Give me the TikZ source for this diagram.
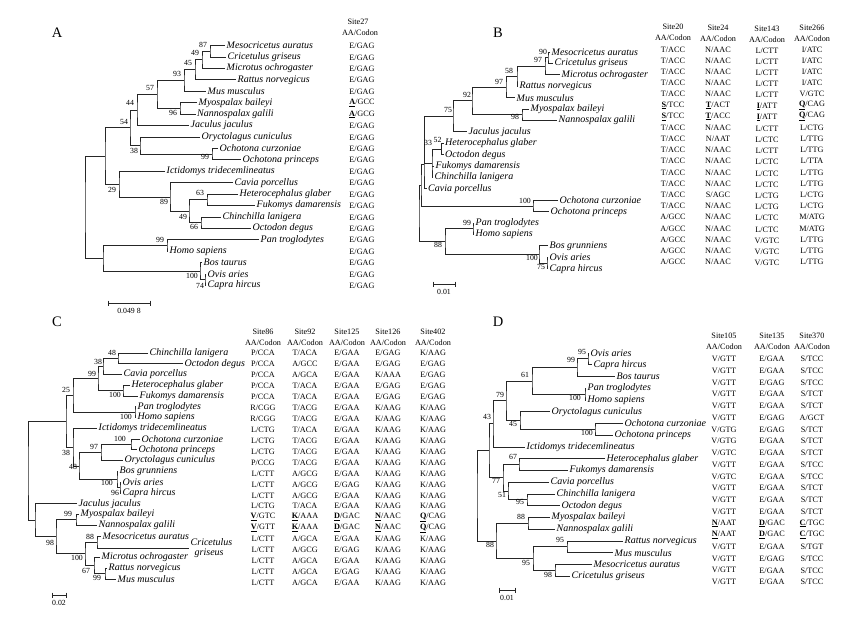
\documentclass[tikz,border=0pt]{standalone}
\usepackage{fontspec}
\setmainfont{Liberation Serif}
\usetikzlibrary{calc}
\newcommand\hl[1]{\underline{\textbf{#1}}}
\newcounter{bsn}
\tikzset{
  br/.style={line width=0.8pt, black!85},
  sp/.style={anchor=west, inner sep=0pt, xshift=1.5pt, align=left, font=\fontsize{10}{11}\selectfont\itshape},
  bsl/.style={inner sep=0pt, font=\fontsize{7.8}{8}\selectfont},
  tv/.style={inner sep=0pt, font=\fontsize{8.2}{9}\selectfont},
  ttl/.style={inner sep=0pt, font=\fontsize{14.5}{16}\selectfont},
}
% leaf: name, tip x, y, text
\newcommand\lf[4]{\coordinate (#1) at (#2,#3); \node[sp] (#1l) at (#1) {#4};}
% clade: name, x, child1, child2
\newcommand\cl[4]{\path let \p1=(#3), \p2=(#4) in coordinate (#1) at ({#2pt},{(\y1+\y2)/2});
  \draw[br] (#3) -| (#1) |- (#4);}
% bootstrap label
\newcommand\bs[3]{\stepcounter{bsn}\node[bsl] (bs\thebsn) at (#1,#2) {#3};}
% table column: name, x, y0, dy, list
\newcommand\tcol[5]{\foreach \v [count=\i from 0] in {#5} \node[tv] (#1-\i) at (#2,{#3+\i*#4}) {\v};}
% header: name, x, y, site
\newcommand\thd[4]{\node[tv] (#1a) at (#2,#3) {Site#4}; \node[tv] (#1b) at (#2,{#3+11}) {AA/Codon};}
% scale bar: name, x1, x2, y, label
\newcommand\sbar[5]{\coordinate (#1l) at (#2,#4); \coordinate (#1r) at (#3,#4);
  \draw[br, line width=0.7pt] (#1l) -- (#1r);
  \draw[br, line width=0.7pt] ($(#1l)+(0,-2.5)$) -- ($(#1l)+(0,2.5)$);
  \draw[br, line width=0.7pt] ($(#1r)+(0,-2.5)$) -- ($(#1r)+(0,2.5)$);
  \node[bsl] (#1t) at ({(#2+#3)/2},{#4+8}) {#5};}
\begin{document}
\begin{tikzpicture}[x=1pt,y=-1pt]
\fill[white] (0,0) rectangle (863,619);
\useasboundingbox (0,0) rectangle (863,619);

% ================= Panel A =================
\node[ttl] (tA) at (57,33) {A};
\lf{a0}{225}{45.5}{Mesocricetus auratus}
\lf{a1}{226}{56.9}{Cricetulus griseus}
\lf{a2}{225}{68.4}{Microtus ochrogaster}
\lf{a3}{236}{79.8}{Rattus norvegicus}
\lf{a4}{206}{91.2}{Mus musculus}
\lf{a5}{197}{102.7}{Myospalax baileyi}
\lf{a6}{195.5}{114.1}{Nannospalax galili}
\lf{a7}{189}{125.5}{Jaculus jaculus}
\lf{a8}{200}{136.9}{Oryctolagus cuniculus}
\lf{a9}{218}{148.4}{Ochotona curzoniae}
\lf{a10}{241}{159.8}{Ochotona princeps}
\lf{a11}{165}{171.2}{Ictidomys tridecemlineatus}
\lf{a12}{233}{182.7}{Cavia porcellus}
\lf{a13}{238}{194.1}{Heterocephalus glaber}
\lf{a14}{255}{205.5}{Fukomys damarensis}
\lf{a15}{221}{217.0}{Chinchilla lanigera}
\lf{a16}{251}{228.4}{Octodon degus}
\lf{a17}{259}{239.8}{Pan troglodytes}
\lf{a18}{168}{251.2}{Homo sapiens}
\lf{a19}{202}{262.7}{Bos taurus}
\lf{a20}{206}{274.1}{Ovis aries}
\lf{a21}{206}{285.5}{Capra hircus}
\cl{aN87}{210}{a0}{a1}
\cl{aN49}{202}{aN87}{a2}
\cl{aN45}{195}{aN49}{a3}
\cl{aN93}{184}{aN45}{a4}
\cl{aN96}{180}{a5}{a6}
\cl{aN57}{157}{aN93}{aN96}
\cl{aN44}{137}{aN57}{a7}
\cl{aN99}{212}{a9}{a10}
\cl{aN38}{140}{a8}{aN99}
\cl{aN54}{130}{aN44}{aN38}
\cl{aN63}{207}{a13}{a14}
\cl{aN66}{201}{a15}{a16}
\cl{aN49b}{189}{aN63}{aN66}
\cl{aN89}{170}{a12}{aN49b}
\cl{aN29}{119}{a11}{aN89}
\cl{aNU}{105}{aN54}{aN29}
\cl{aN99b}{167}{a17}{a18}
\cl{aN74}{205}{a20}{a21}
\cl{aN100}{200}{a19}{aN74}
\cl{aNO}{103}{aN99b}{aN100}
\cl{aRoot}{85}{aNU}{aNO}
\bs{203}{45}{87}\bs{195}{53}{49}\bs{188}{63}{45}\bs{177}{74}{93}\bs{150}{88}{57}
\bs{173}{113}{96}\bs{130}{103}{44}\bs{124}{122}{54}\bs{134}{151}{38}\bs{205}{157}{99}
\bs{112}{190}{29}\bs{164}{202}{89}\bs{200}{193}{63}\bs{183}{217}{49}\bs{194}{227}{66}
\bs{160}{240}{99}\bs{192}{276}{100}\bs{200}{286}{74}
\sbar{sA}{108}{150}{303}{0.049 8}
\node[tv] (hAa) at (358,22) {Site27};
\node[tv] (hAb) at (360,33) {AA/Codon};
\tcol{tA}{362}{46}{11.43}{E/GAG,E/GAG,E/GAG,E/GAG,E/GAG,\hl{A}/GCC,\hl{A}/GCG,E/GAG,E/GAG,E/GAG,E/GAG,E/GAG,E/GAG,E/GAG,E/GAG,E/GAG,E/GAG,E/GAG,E/GAG,E/GAG,E/GAG,E/GAG}

% ================= Panel B =================
\node[ttl] (tB) at (498,33) {B};
\lf{b0}{550}{52.0}{Mesocricetus auratus}
\lf{b1}{553}{63.4}{Cricetulus griseus}
\lf{b2}{560}{74.8}{Microtus ochrogaster}
\lf{b3}{518}{86.2}{Rattus norvegicus}
\lf{b4}{515}{97.6}{Mus musculus}
\lf{b5}{529}{109.0}{Myospalax baileyi}
\lf{b6}{557}{120.4}{Nannospalax galili}
\lf{b7}{467}{131.8}{Jaculus jaculus}
\lf{b8}{443.5}{143.2}{Heterocephalus glaber}
\lf{b9}{443.5}{154.6}{Octodon degus}
\lf{b10}{434}{166.0}{Fukomys damarensis}
\lf{b11}{433}{177.4}{Chinchilla lanigera}
\lf{b12}{426.5}{188.8}{Cavia porcellus}
\lf{b13}{558}{200.2}{Ochotona curzoniae}
\lf{b14}{549}{211.6}{Ochotona princeps}
\lf{b15}{474}{223.0}{Pan troglodytes}
\lf{b16}{474}{234.4}{Homo sapiens}
\lf{b17}{548}{245.8}{Bos grunniens}
\lf{b18}{548}{257.2}{Ovis aries}
\lf{b19}{548}{268.6}{Capra hircus}
\cl{bN90}{548}{b0}{b1}
\cl{bN97}{545}{bN90}{b2}
\cl{bN58}{517}{bN97}{b3}
\cl{bN97b}{506}{bN58}{b4}
\cl{bN98}{522}{b5}{b6}
\cl{bN92}{472}{bN97b}{bN98}
\cl{bN75}{453}{bN92}{b7}
\cl{bN52}{441.5}{b8}{b9}
% three-way node 33
\path let \p1=(bN52), \p2=(b11) in coordinate (bN33) at ({432pt},{(\y1+\y2)/2});
\draw[br] (bN52) -| (bN33) |- (b11);
\draw[br] (b10) -- (b10 -| bN33);
\cl{bNA}{424.4}{bN75}{bN33}
\cl{bNB}{424}{bNA}{b12}
\cl{bN100}{533}{b13}{b14}
\cl{bNRod}{421}{bNB}{bN100}
\cl{bN99}{473}{b15}{b16}
\cl{bN75b}{547}{b18}{b19}
\cl{bN100b}{539}{b17}{bN75b}
\cl{bN88}{445}{bN99}{bN100b}
\cl{bRoot}{419}{bNRod}{bN88}
\bs{543}{52}{90}\bs{538}{60}{97}\bs{509}{71}{58}\bs{499}{82}{97}\bs{467}{95}{92}
\bs{515}{117}{98}\bs{448}{110}{75}\bs{437.5}{140}{52}\bs{428}{143}{33}\bs{525}{201}{100}
\bs{467}{223}{99}\bs{438}{245}{88}\bs{532}{258}{100}\bs{541}{267}{75}
\sbar{sB}{433}{455}{284}{0.01}
\thd{hB1}{673}{27}{20}\thd{hB2}{718}{28}{24}\thd{hB3}{767}{29}{143}\thd{hB4}{812}{28}{266}
\tcol{tB1}{673}{49.5}{11.18}{T/ACC,T/ACC,T/ACC,T/ACC,T/ACC,\hl{S}/TCC,\hl{S}/TCC,T/ACC,T/ACC,T/ACC,T/ACC,T/ACC,T/ACC,T/ACC,T/ACC,A/GCC,A/GCC,A/GCC,A/GCC,A/GCC}
\tcol{tB2}{718}{49.5}{11.18}{N/AAC,N/AAC,N/AAC,N/AAC,N/AAC,\hl{T}/ACT,\hl{T}/ACC,N/AAC,N/AAT,N/AAC,N/AAC,N/AAC,N/AAC,S/AGC,N/AAC,N/AAC,N/AAC,N/AAC,N/AAC,N/AAC}
\tcol{tB3}{767}{50.5}{11.18}{L/CTT,L/CTT,L/CTT,L/CTT,L/CTT,\hl{I}/ATT,\hl{I}/ATT,L/CTT,L/CTC,L/CTT,L/CTC,L/CTC,L/CTC,L/CTG,L/CTG,L/CTC,L/CTC,V/GTC,V/GTC,V/GTC}
\tcol{tB4}{812}{49.5}{11.18}{I/ATC,I/ATC,I/ATC,I/ATC,V/GTC,\hl{Q}/CAG,\hl{Q}/CAG,L/CTG,L/TTG,L/TTG,L/TTA,L/TTG,L/TTG,L/CTG,L/CTG,M/ATG,M/ATG,L/TTG,L/TTG,L/TTG}

% ================= Panel C =================
\node[ttl] (tC) at (57,322) {C};
\lf{c0}{148}{353.0}{Chinchilla lanigera}
\lf{c1}{183}{363.8}{Octodon degus}
\lf{c2}{122}{374.5}{Cavia porcellus}
\lf{c3}{130}{385.3}{Heterocephalus glaber}
\lf{c4}{138}{396.0}{Fukomys damarensis}
\lf{c5}{136}{406.8}{Pan troglodytes}
\lf{c6}{136}{417.6}{Homo sapiens}
\lf{c7}{97}{428.3}{Ictidomys tridecemlineatus}
\lf{c8}{140}{439.1}{Ochotona curzoniae}
\lf{c9}{137}{449.8}{Ochotona princeps}
\lf{c10}{123}{460.6}{Oryctolagus cuniculus}
\lf{c11}{118}{471.4}{Bos grunniens}
\lf{c12}{121}{482.1}{Ovis aries}
\lf{c13}{121}{492.9}{Capra hircus}
\lf{c14}{77}{503.6}{Jaculus jaculus}
\lf{c15}{79}{514.4}{Myospalax baileyi}
\lf{c16}{97}{525.2}{Nannospalax galili}
\lf{c17}{101}{535.9}{Mesocricetus auratus}
\lf{c18}{189}{548.3}{Cricetulus\\[-1.2pt]\hspace*{4pt}griseus}
\lf{c19}{100}{557.4}{Microtus ochrogaster}
\lf{c20}{107}{568.2}{Rattus norvegicus}
\lf{c21}{116}{579.0}{Mus musculus}
\cl{cN48}{118}{c0}{c1}
\cl{cN38}{103}{cN48}{c2}
\cl{cN100a}{123}{c3}{c4}
\cl{cN99}{98}{cN38}{cN100a}
\cl{cN100b}{135}{c5}{c6}
\cl{cN25}{73}{cN99}{cN100b}
\cl{cN100c}{131}{c8}{c9}
\cl{cN97}{101}{cN100c}{c10}
\cl{cN96}{120}{c12}{c13}
\cl{cN100d}{117}{c11}{cN96}
\cl{cN48b}{79}{cN97}{cN100d}
\cl{cN38b}{73}{c7}{cN48b}
\cl{cNIn}{66}{cN25}{cN38b}
\cl{cN99m}{76}{c15}{c16}
\cl{cN88}{97}{c17}{c18}
\cl{cN99r}{105}{c20}{c21}
\cl{cN67}{94}{c19}{cN99r}
\cl{cN100e}{85}{cN88}{cN67}
\cl{cN98}{56}{cN99m}{cN100e}
\cl{cNJ}{35}{c14}{cN98}
\cl{cRoot}{28}{cNIn}{cNJ}
\bs{112}{353}{48}\bs{98}{362}{38}\bs{115}{395}{100}\bs{92}{374}{99}\bs{126}{417}{100}
\bs{66}{390}{25}\bs{120}{439}{100}\bs{94}{447}{97}\bs{107}{483}{100}\bs{115}{493}{96}
\bs{73}{467}{48}\bs{66}{453}{38}\bs{68}{514}{99}\bs{90}{537}{88}\bs{77}{558}{100}
\bs{86}{571}{67}\bs{97}{578}{99}\bs{50}{543}{98}
\sbar{sC}{52}{66}{595}{0.02}
\thd{hC1}{263}{332}{86}\thd{hC2}{305}{332}{92}\thd{hC3}{347}{332}{125}\thd{hC4}{388}{332}{126}\thd{hC5}{433}{332}{402}
\tcol{tC1}{263}{353}{10.95}{P/CCA,P/CCA,P/CCA,P/CCA,P/CCA,R/CGG,R/CGG,L/CTG,L/CTG,L/CTG,P/CCG,L/CTT,L/CTT,L/CTT,L/CTG,\hl{V}/GTC,\hl{V}/GTT,L/CTT,L/CTT,L/CTT,L/CTT,L/CTT}
\tcol{tC2}{305}{353}{10.95}{T/ACA,A/GCC,A/GCA,T/ACA,T/ACA,T/ACG,T/ACG,T/ACA,T/ACG,T/ACG,T/ACG,A/GCG,A/GCG,A/GCG,T/ACA,\hl{K}/AAA,\hl{K}/AAA,A/GCA,A/GCG,A/GCA,A/GCA,A/GCA}
\tcol{tC3}{347}{353}{10.95}{E/GAA,E/GAA,E/GAA,E/GAA,E/GAA,E/GAA,E/GAA,E/GAA,E/GAA,E/GAA,E/GAA,E/GAA,E/GAG,E/GAA,E/GAA,\hl{D}/GAC,\hl{D}/GAC,E/GAA,E/GAG,E/GAA,E/GAG,E/GAA}
\tcol{tC4}{388}{353}{10.95}{E/GAG,E/GAG,K/AAA,E/GAG,E/GAG,K/AAG,K/AAG,K/AAG,K/AAG,K/AAG,K/AAG,K/AAG,K/AAG,K/AAG,K/AAG,\hl{N}/AAC,\hl{N}/AAC,K/AAG,K/AAG,K/AAG,K/AAG,K/AAG}
\tcol{tC5}{433}{353}{10.95}{K/AAG,E/GAG,E/GAG,E/GAG,E/GAG,K/AAG,K/AAG,K/AAG,K/AAG,K/AAG,K/AAG,K/AAG,K/AAG,K/AAG,K/AAG,\hl{Q}/CAG,\hl{Q}/CAG,K/AAG,K/AAG,K/AAG,K/AAG,K/AAG}

% ================= Panel D =================
\node[ttl] (tD) at (498,322) {D};
\lf{d0}{589}{353.0}{Ovis aries}
\lf{d1}{592}{364.75}{Capra hircus}
\lf{d2}{615}{376.5}{Bos taurus}
\lf{d3}{586}{388.25}{Pan troglodytes}
\lf{d4}{586}{400.0}{Homo sapiens}
\lf{d5}{550}{411.75}{Oryctolagus cuniculus}
\lf{d6}{623}{423.5}{Ochotona curzoniae}
\lf{d7}{613}{435.25}{Ochotona princeps}
\lf{d8}{525}{447.0}{Ictidomys tridecemlineatus}
\lf{d9}{605}{458.75}{Heterocephalus glaber}
\lf{d10}{568}{470.5}{Fukomys damarensis}
\lf{d11}{549}{482.25}{Cavia porcellus}
\lf{d12}{555}{494.0}{Chinchilla lanigera}
\lf{d13}{560}{505.75}{Octodon degus}
\lf{d14}{550}{517.5}{Myospalax baileyi}
\lf{d15}{555}{529.25}{Nannospalax galili}
\lf{d16}{623}{541.0}{Rattus norvegicus}
\lf{d17}{613}{552.75}{Mus musculus}
\lf{d18}{592}{564.5}{Mesocricetus auratus}
\lf{d19}{570}{576.25}{Cricetulus griseus}
\cl{dN95a}{588}{d0}{d1}
\cl{dN99}{577}{dN95a}{d2}
\cl{dN100a}{585}{d3}{d4}
\cl{dN61}{532}{dN99}{dN100a}
\cl{dN100b}{595}{d6}{d7}
\cl{dN45}{520}{d5}{dN100b}
\cl{dN79}{506}{dN61}{dN45}
\cl{dN43}{493}{dN79}{d8}
\cl{dN67}{519}{d9}{d10}
\cl{dN95b}{527}{d12}{d13}
\cl{dN51}{508}{d11}{dN95b}
\cl{dN77}{503}{dN67}{dN51}
\cl{dNA}{489}{dN43}{dN77}
\cl{dN88a}{528}{d14}{d15}
\cl{dN95c}{567}{d16}{d17}
\cl{dN98}{555}{d18}{d19}
\cl{dN95d}{533}{dN95c}{dN98}
\cl{dN88b}{496}{dN88a}{dN95d}
\cl{dRoot}{477}{dNA}{dN88b}
\bs{582}{352}{95}\bs{571}{360}{99}\bs{575}{398}{100}\bs{525}{375}{61}\bs{587}{433}{100}
\bs{513}{424}{45}\bs{500}{395}{79}\bs{487}{417}{43}\bs{513}{457}{67}\bs{520}{502}{95}
\bs{502}{495}{51}\bs{496}{481}{77}\bs{521}{517}{88}\bs{560}{540}{95}\bs{548}{575}{98}
\bs{526}{563}{95}\bs{490}{545}{88}
\sbar{sD}{499}{515}{590}{0.01}
\thd{hD1}{724}{336}{105}\thd{hD2}{772}{336}{135}\thd{hD3}{812}{336}{370}
\tcol{tD1}{724}{359}{11.74}{V/GTT,V/GTT,V/GTT,V/GTT,V/GTT,V/GTT,V/GTG,V/GTG,V/GTC,V/GTT,V/GTC,V/GTT,V/GTT,V/GTT,\hl{N}/AAT,\hl{N}/AAT,V/GTT,V/GTT,V/GTT,V/GTT}
\tcol{tD2}{772}{359}{11.74}{E/GAA,E/GAA,E/GAG,E/GAA,E/GAA,E/GAG,E/GAG,E/GAA,E/GAA,E/GAA,E/GAA,E/GAA,E/GAA,E/GAA,\hl{D}/GAC,\hl{D}/GAC,E/GAA,E/GAG,E/GAA,E/GAA}
\tcol{tD3}{812}{359}{11.74}{S/TCC,S/TCC,S/TCC,S/TCT,S/TCT,A/GCT,S/TCT,S/TCT,S/TCT,S/TCC,S/TCC,S/TCT,S/TCT,S/TCT,\hl{C}/TGC,\hl{C}/TGC,S/TGT,S/TCC,S/TCC,S/TCC}
\end{tikzpicture}
\end{document}
